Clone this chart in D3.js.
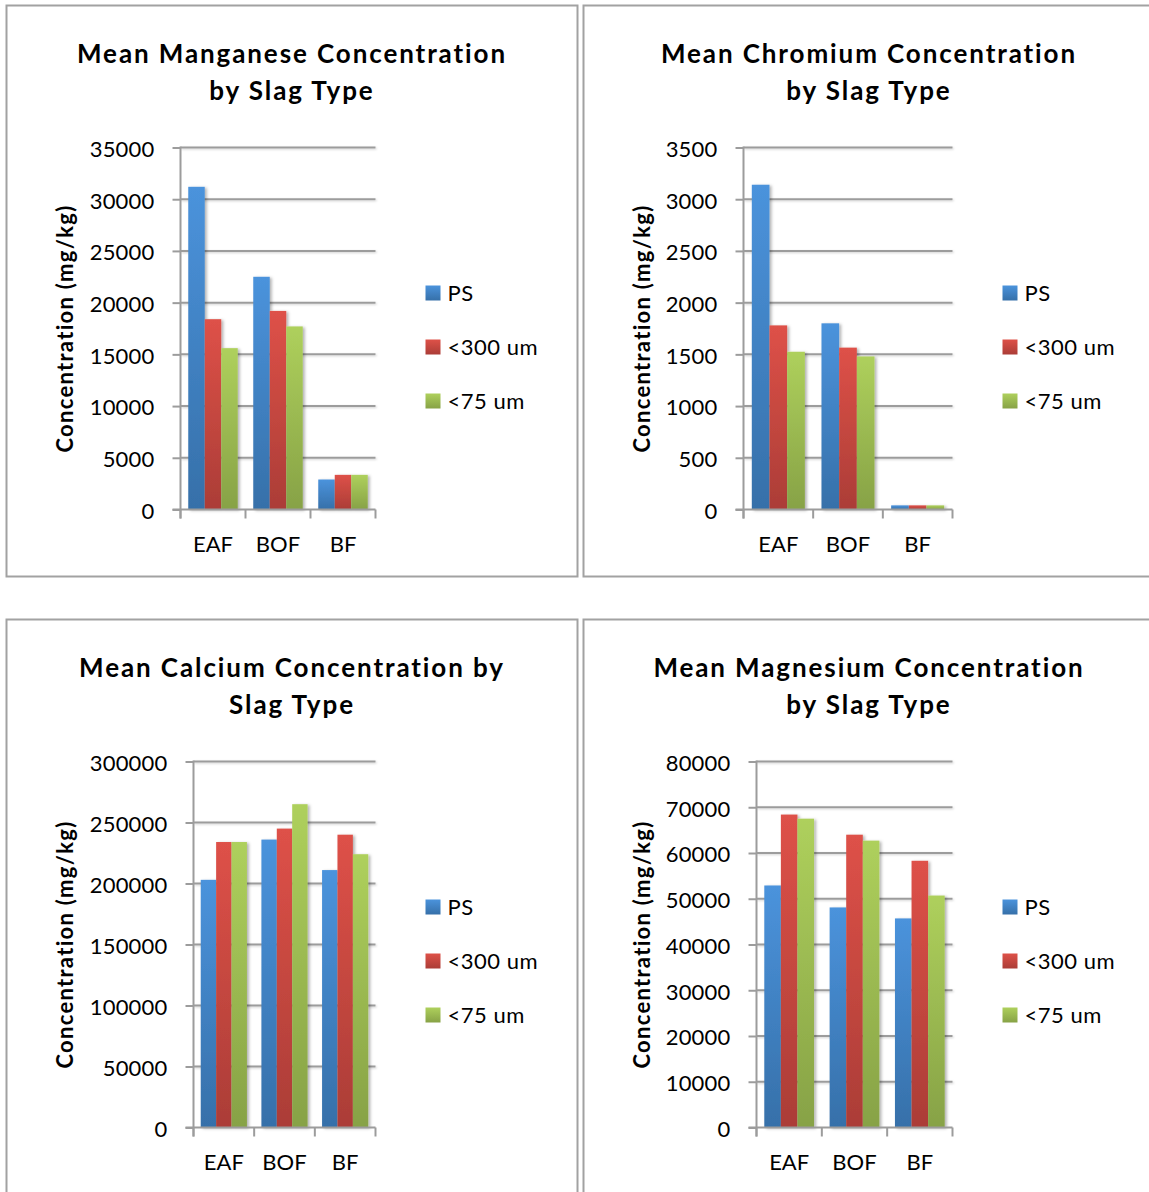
<!DOCTYPE html>
<html>
<head>
<meta charset="utf-8">
<script src="https://cdn.jsdelivr.net/npm/d3@7"></script>
<style>
  html, body { margin: 0; padding: 0; background: #fff; }
  svg { display: block; }
  text { font-family: Lato, Carlito, Calibri, "Open Sans", sans-serif; fill: #000; }
</style>
</head>
<body>
<svg id="chart" width="1149" height="1192"></svg>
<script>
// Slag types on the x axis and the three sample fractions
const categories = ["EAF", "BOF", "BF"];
const seriesNames = ["PS", "<300 um", "<75 um"];

// Mean concentrations in mg/kg, one array per fraction, ordered EAF, BOF, BF
const manganesePS = [31200, 22500, 2900];
const manganese300 = [18400, 19200, 3350];
const manganese75 = [15600, 17700, 3350];

const chromiumPS = [3140, 1800, 40];
const chromium300 = [1780, 1565, 40];
const chromium75 = [1525, 1480, 40];

const calciumPS = [203000, 236000, 211000];
const calcium300 = [234000, 245000, 240000];
const calcium75 = [234000, 265000, 224000];

const magnesiumPS = [52900, 48100, 45700];
const magnesium300 = [68400, 64000, 58300];
const magnesium75 = [67500, 62700, 50700];

// Axis tick values per panel
const manganeseTicks = d3.range(0, 35001, 5000);
const chromiumTicks = d3.range(0, 3501, 500);
const calciumTicks = d3.range(0, 300001, 50000);
const magnesiumTicks = d3.range(0, 80001, 10000);

const panels = [
  { title: ["Mean Manganese Concentration", "by Slag Type"], series: [manganesePS, manganese300, manganese75], ticks: manganeseTicks },
  { title: ["Mean Chromium Concentration", "by Slag Type"], series: [chromiumPS, chromium300, chromium75], ticks: chromiumTicks },
  { title: ["Mean Calcium Concentration by", "Slag Type"], series: [calciumPS, calcium300, calcium75], ticks: calciumTicks },
  { title: ["Mean Magnesium Concentration", "by Slag Type"], series: [magnesiumPS, magnesium300, magnesium75], ticks: magnesiumTicks }
];

// Panel placement: frame origin, frame size, plot-area edges (frame-relative)
const layout = [
  { x: 6.5, y: 5.5, w: 571, h: 571, left: 174, right: 369, top: 142, bottom: 504 },
  { x: 583.5, y: 5.5, w: 571, h: 571, left: 160, right: 369, top: 142, bottom: 504 },
  { x: 6.5, y: 619.5, w: 571, h: 576, left: 187, right: 369, top: 142, bottom: 508 },
  { x: 583.5, y: 619.5, w: 571, h: 576, left: 173, right: 369, top: 142, bottom: 508 }
];

const gradientStops = [
  ["#4b93dc", "#3670a9"],
  ["#de5148", "#ab3d37"],
  ["#aed05c", "#87a246"]
];

const svg = d3.select("#chart");
const defs = svg.append("defs");

gradientStops.forEach((c, i) => {
  const g = defs.append("linearGradient")
    .attr("id", "grad" + i)
    .attr("x1", 0).attr("y1", 0).attr("x2", 0).attr("y2", 1);
  g.append("stop").attr("offset", "0%").attr("stop-color", c[0]);
  g.append("stop").attr("offset", "100%").attr("stop-color", c[1]);
});

const shadow = defs.append("filter").attr("id", "barShadow")
  .attr("x", "-20%").attr("y", "-5%").attr("width", "160%").attr("height", "115%");
shadow.append("feDropShadow")
  .attr("dx", 2).attr("dy", 1).attr("stdDeviation", 1.6)
  .attr("flood-color", "#000").attr("flood-opacity", 0.3);

const lineShadow = defs.append("filter").attr("id", "lineShadow")
  .attr("x", "-5%").attr("y", "-200%").attr("width", "110%").attr("height", "500%");
lineShadow.append("feDropShadow")
  .attr("dx", 1).attr("dy", 1).attr("stdDeviation", 1)
  .attr("flood-color", "#000").attr("flood-opacity", 0.18);

const gridColor = "#9c9c9c";

panels.forEach((p, pi) => {
  const L = layout[pi];
  const g = svg.append("g").attr("transform", `translate(${L.x},${L.y})`);

  // Frame
  g.append("rect")
    .attr("x", 0).attr("y", 0).attr("width", L.w).attr("height", L.h)
    .attr("fill", "#fff").attr("stroke", "#a2a2a2").attr("stroke-width", 2);

  // Title
  const title = g.append("text")
    .attr("text-anchor", "middle")
    .attr("font-weight", "bold")
    .attr("font-size", 26)
    .attr("letter-spacing", 1.9);
  p.title.forEach((line, li) => {
    title.append("tspan").attr("x", L.w / 2).attr("y", 57.5 + li * 37).text(line);
  });

  const yMax = p.ticks[p.ticks.length - 1];
  const y = d3.scaleLinear().domain([0, yMax]).range([L.bottom, L.top]);
  const x0 = d3.scaleBand().domain(categories).range([L.left, L.right]).paddingInner(0).paddingOuter(0);
  const x1 = d3.scaleBand().domain(d3.range(seriesNames.length))
    .range([0, x0.bandwidth()]).paddingOuter(0.47).paddingInner(0);

  // Gridlines
  const grid = g.append("g").attr("filter", "url(#lineShadow)");
  grid.selectAll("line.grid")
    .data(p.ticks.slice(1))
    .join("line")
    .attr("class", "grid")
    .attr("x1", L.left).attr("x2", L.right)
    .attr("y1", d => y(d)).attr("y2", d => y(d))
    .attr("stroke", gridColor).attr("stroke-width", 2);

  // Bars
  const bars = g.append("g").attr("filter", "url(#barShadow)");
  categories.forEach((cat, ci) => {
    p.series.forEach((vals, si) => {
      bars.append("rect")
        .attr("x", x0(cat) + x1(si))
        .attr("y", y(vals[ci]))
        .attr("width", x1.bandwidth())
        .attr("height", y(0) - y(vals[ci]))
        .attr("fill", `url(#grad${si})`);
    });
  });

  // Y axis
  const yAxis = d3.axisLeft(y).tickValues(p.ticks).tickFormat(d3.format("d"))
    .tickSize(8).tickSizeOuter(0).tickPadding(18);
  const ya = g.append("g").attr("transform", `translate(${L.left},0)`).call(yAxis);
  ya.select(".domain").attr("stroke", gridColor).attr("stroke-width", 2)
    .attr("d", `M0,${L.top - 1}V${L.bottom + 9}`);
  ya.selectAll(".tick line").attr("stroke", gridColor).attr("stroke-width", 2);
  ya.selectAll(".tick text")
    .attr("font-size", 22)
    .attr("font-family", "Lato, Carlito, Calibri, sans-serif")
    .attr("letter-spacing", 0.2)
    .attr("dy", "0.4em")
    .attr("fill", "#000");

  // X axis
  const xa = g.append("g").attr("transform", `translate(0,${L.bottom})`);
  xa.append("line")
    .attr("x1", L.left - 8).attr("x2", L.right)
    .attr("stroke", gridColor).attr("stroke-width", 2);
  const boundaries = categories.map(c => x0(c)).concat([L.right]);
  xa.selectAll("line.xt").data(boundaries).join("line")
    .attr("class", "xt")
    .attr("x1", d => d).attr("x2", d => d)
    .attr("y1", 0).attr("y2", 9)
    .attr("stroke", gridColor).attr("stroke-width", 2);
  xa.selectAll("text.cat").data(categories).join("text")
    .attr("class", "cat")
    .attr("x", d => x0(d) + x0.bandwidth() / 2)
    .attr("y", 42)
    .attr("text-anchor", "middle")
    .attr("font-size", 22)
    .text(d => d);

  // Y axis title
  g.append("text")
    .attr("transform", `translate(59,${(L.top + L.bottom) / 2}) rotate(-90)`)
    .attr("text-anchor", "middle")
    .attr("dy", "0.35em")
    .attr("font-weight", "bold")
    .attr("font-size", 22)
    .attr("letter-spacing", 1.3)
    .text("Concentration (mg/kg)");

  // Legend
  const legend = g.append("g").attr("transform", "translate(419,288)");
  seriesNames.forEach((name, si) => {
    const row = legend.append("g").attr("transform", `translate(0,${si * 54})`);
    row.append("rect")
      .attr("x", 0).attr("y", -8).attr("width", 15).attr("height", 15)
      .attr("fill", `url(#grad${si})`);
    row.append("text")
      .attr("x", 22).attr("y", 0).attr("dy", "0.36em")
      .attr("font-size", 22)
      .attr("letter-spacing", 0.5)
      .text(name);
  });
});
</script>
</body>
</html>
